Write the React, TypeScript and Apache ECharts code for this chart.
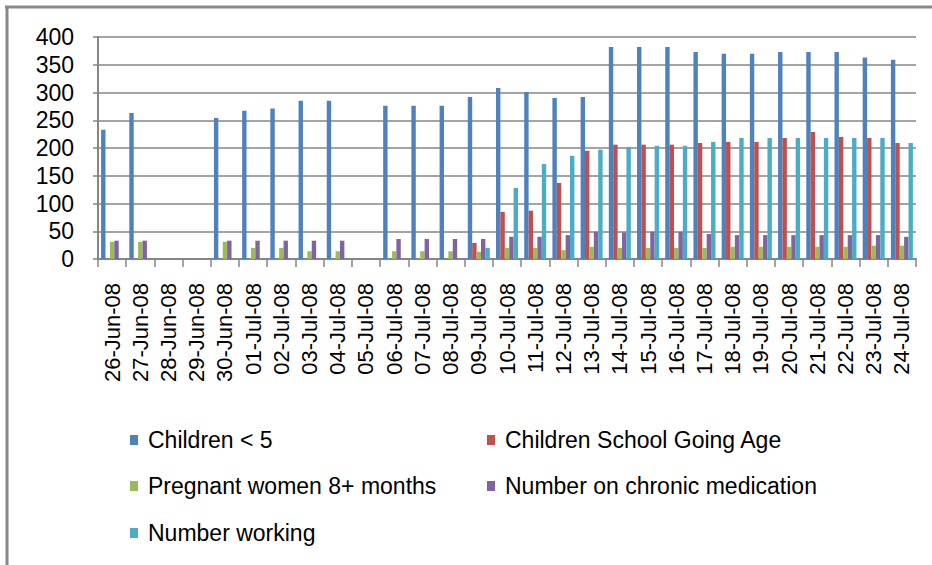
import React, { useEffect, useRef } from "react";
import * as echarts from "echarts";

const categories = [
  "26-Jun-08", "27-Jun-08", "28-Jun-08", "29-Jun-08", "30-Jun-08",
  "01-Jul-08", "02-Jul-08", "03-Jul-08", "04-Jul-08", "05-Jul-08",
  "06-Jul-08", "07-Jul-08", "08-Jul-08", "09-Jul-08", "10-Jul-08",
  "11-Jul-08", "12-Jul-08", "13-Jul-08", "14-Jul-08", "15-Jul-08",
  "16-Jul-08", "17-Jul-08", "18-Jul-08", "19-Jul-08", "20-Jul-08",
  "21-Jul-08", "22-Jul-08", "23-Jul-08", "24-Jul-08",
];

const childrenUnder5 = [
  233, 263, null, null, 254, 267, 271, 285, 285, null, 276, 276, 276, 292, 308,
  301, 290, 292, 382, 382, 382, 373, 370, 370, 373, 373, 373, 363, 359,
];
const childrenSchool = [
  null, null, null, null, null, null, null, null, null, null, null, null, null, 29, 85,
  87, 137, 195, 206, 206, 206, 209, 211, 211, 218, 229, 220, 218, 209,
];
const pregnantWomen = [
  31, 31, null, null, 31, 20, 20, 14, 14, null, 14, 14, 14, 13, 20,
  20, 16, 22, 20, 20, 20, 20, 22, 22, 22, 22, 22, 24, 24,
];
const chronicMedication = [
  33, 33, null, null, 33, 33, 33, 33, 33, null, 36, 36, 36, 36, 40,
  40, 43, 49, 48, 49, 49, 45, 43, 43, 43, 43, 43, 43, 40,
];
const numberWorking = [
  null, null, null, null, null, null, null, null, null, null, null, null, null, 20, 128,
  171, 186, 197, 202, 204, 204, 211, 218, 218, 218, 218, 218, 218, 209,
];

const seriesNames = [
  "Children < 5",
  "Children School Going Age",
  "Pregnant women 8+ months",
  "Number on chronic medication",
  "Number working",
];
const seriesColors = ["#4F81BD", "#C0504D", "#9BBB59", "#8064A2", "#4BACC6"];
const seriesData = [childrenUnder5, childrenSchool, pregnantWomen, chronicMedication, numberWorking];

const legendPos = [
  { left: 130, cy: 440 },
  { left: 487, cy: 440 },
  { left: 130, cy: 486 },
  { left: 487, cy: 486 },
  { left: 130, cy: 533 },
];

const FONT = "'Liberation Sans', Arial, sans-serif";
const GRID = "#868686";

export default function App() {
  const ref = useRef<HTMLDivElement>(null);
  useEffect(() => {
    if (!ref.current) return;
    const chart = echarts.init(ref.current, null, { renderer: "svg" });
    chart.setOption({
      animation: false,
      backgroundColor: "#ffffff",
      textStyle: { fontFamily: FONT, color: "#000" },
      grid: { left: 98, right: 16, top: 37, bottom: 306 },
      legend: seriesNames.map((n, i) => ({
        data: [n],
        left: legendPos[i].left,
        top: legendPos[i].cy - 13,
        padding: 0,
        itemWidth: 8,
        itemHeight: 10,
        icon: "rect",
        selectedMode: false,
        textStyle: { fontSize: 23, fontFamily: FONT, color: "#000", lineHeight: 26, padding: [0, 0, 0, 5] },
      })),
      xAxis: {
        type: "category",
        data: categories,
        axisLine: { show: true, lineStyle: { color: GRID, width: 2 } },
        axisTick: { show: true, interval: 0, length: 8, lineStyle: { color: GRID, width: 1.5 } },
        axisLabel: { interval: 0, rotate: 90, margin: 24, fontSize: 22, fontFamily: FONT, color: "#000" },
        splitLine: { show: false },
      },
      yAxis: {
        type: "value",
        min: 0,
        max: 400,
        interval: 50,
        axisLine: { show: true, lineStyle: { color: GRID, width: 2 } },
        axisTick: { show: true, length: 5, lineStyle: { color: GRID, width: 1.5 } },
        axisLabel: { fontSize: 23, margin: 24, fontFamily: FONT, color: "#000" },
        splitLine: { show: true, lineStyle: { color: GRID, width: 1.5 } },
      },
      series: seriesNames.map((n, i) => ({
        name: n,
        type: "bar",
        data: seriesData[i],
        itemStyle: { color: seriesColors[i] },
        barGap: "0%",
        barCategoryGap: "22%",
      })),
      graphic: [
        { type: "line", shape: { x1: 5, y1: 7, x2: 932, y2: 7 }, style: { stroke: "#888888", lineWidth: 3 } },
        { type: "line", shape: { x1: 7, y1: 6, x2: 7, y2: 565 }, style: { stroke: "#888888", lineWidth: 3 } },
      ],
    });
    return () => chart.dispose();
  }, []);
  return (
    <div
      ref={ref}
      style={{ position: "fixed", left: 0, top: 0, width: 932, height: 565 }}
    />
  );
}
